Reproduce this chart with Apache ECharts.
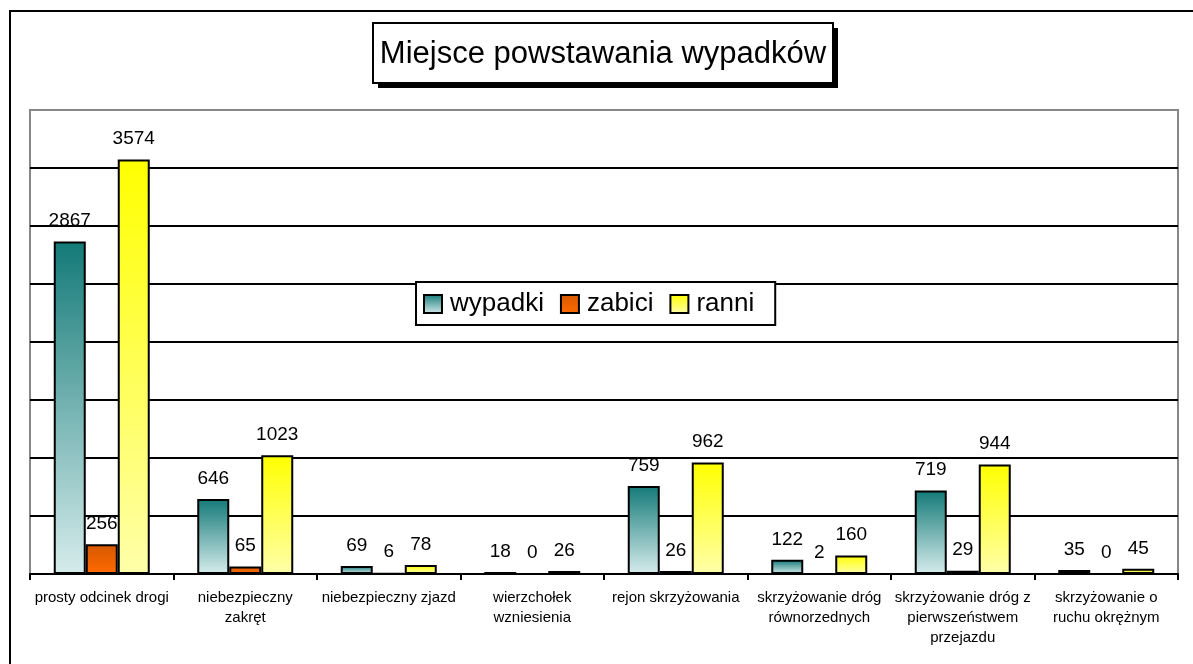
<!DOCTYPE html>
<html>
<head>
<meta charset="utf-8">
<script src="https://cdn.jsdelivr.net/npm/echarts@6/dist/echarts.min.js"></script>
<style>
  html, body { margin: 0; padding: 0; background: #fff; }
  #main { width: 1193px; height: 664px; }
</style>
</head>
<body>
<div id="main"></div>
<script>
// dane z wykresu
const categories = [
  'prosty odcinek drogi',
  'niebezpieczny\nzakręt',
  'niebezpieczny zjazd',
  'wierzchołek\nwzniesienia',
  'rejon skrzyżowania',
  'skrzyżowanie dróg\nrównorzednych',
  'skrzyżowanie dróg z\npierwszeństwem\nprzejazdu',
  'skrzyżowanie o\nruchu okrężnym'
];
const wypadki = [2867, 646, 69, 18, 759, 122, 719, 35];
const zabici = [256, 65, 6, 0, 26, 2, 29, 0];
const ranni = [3574, 1023, 78, 26, 962, 160, 944, 45];
const seriesNames = ['wypadki', 'zabici', 'ranni'];

const FONT = '"Liberation Sans", Arial, sans-serif';

function grad(top, bottom) {
  return new echarts.graphic.LinearGradient(0, 0, 0, 1, [
    { offset: 0, color: top },
    { offset: 1, color: bottom }
  ]);
}

const fills = [
  grad('#137a78', '#d6ecec'),
  grad('#d65800', '#ff6a00'),
  grad('#ffff00', '#ffffaa')
];

// linie siatki czarne, górna krawędź szara
const splitColors = ['#000', '#000', '#000', '#000', '#000', '#000', '#000', '#000', '#888'];

function makeSeries(name, data, i) {
  return {
    name: name,
    type: 'bar',
    data: data,
    barWidth: 32,
    barGap: '0%',
    itemStyle: { color: fills[i], borderColor: '#000', borderWidth: 2 },
    label: {
      show: true,
      position: 'top',
      distance: 11,
      color: '#000',
      fontFamily: FONT,
      fontSize: 19
    },
    z: 3
  };
}

const chart = echarts.init(document.getElementById('main'), null, { renderer: 'canvas' });

chart.setOption({
  animation: false,
  backgroundColor: '#fff',
  graphic: [
    // ramka całego wykresu
    { type: 'rect', shape: { x: 10, y: 11, width: 1400, height: 900 },
      style: { fill: 'none', stroke: '#000', lineWidth: 2 }, z: 0 },
    // tytuł z cieniem
    { type: 'rect', shape: { x: 378, y: 28, width: 460, height: 60 },
      style: { fill: '#000' }, z: 10 },
    { type: 'rect', shape: { x: 373, y: 23, width: 460, height: 60 },
      style: { fill: '#fff', stroke: '#000', lineWidth: 2 }, z: 11 },
    { type: 'text', x: 603, y: 54, z: 12,
      style: { text: 'Miejsce powstawania wypadków', fill: '#000',
               font: '31px ' + FONT, textAlign: 'center', textVerticalAlign: 'middle' } }
  ],
  grid: {
    left: 30, right: 15, top: 110, bottom: 90,
    show: true, borderColor: '#888', borderWidth: 2, backgroundColor: '#fff'
  },
  legend: {
    data: seriesNames,
    left: 416, top: 282,
    orient: 'horizontal',
    padding: [9, 21, 8, 7],
    itemGap: 16,
    itemWidth: 18, itemHeight: 18,
    icon: 'rect',
    backgroundColor: '#fff',
    borderColor: '#000',
    borderWidth: 2,
    itemStyle: { borderColor: '#000', borderWidth: 2 },
    textStyle: { color: '#000', fontFamily: FONT, fontSize: 26, padding: [0, 0, 0, 3] },
    z: 20
  },
  xAxis: {
    type: 'category',
    data: categories,
    axisLine: { lineStyle: { color: '#000', width: 2 } },
    axisTick: { show: true, length: 6, lineStyle: { color: '#000', width: 2 } },
    axisLabel: {
      color: '#000', fontFamily: FONT, fontSize: 15, lineHeight: 20,
      margin: 14, interval: 0, align: 'center'
    }
  },
  yAxis: {
    type: 'value',
    min: 0, max: 4000, interval: 500,
    axisLabel: { show: false },
    axisTick: { show: false },
    axisLine: { show: false },
    splitLine: { show: true, lineStyle: { color: splitColors, width: 2 } }
  },
  series: [
    makeSeries(seriesNames[0], wypadki, 0),
    makeSeries(seriesNames[1], zabici, 1),
    makeSeries(seriesNames[2], ranni, 2)
  ]
});
</script>
</body>
</html>
